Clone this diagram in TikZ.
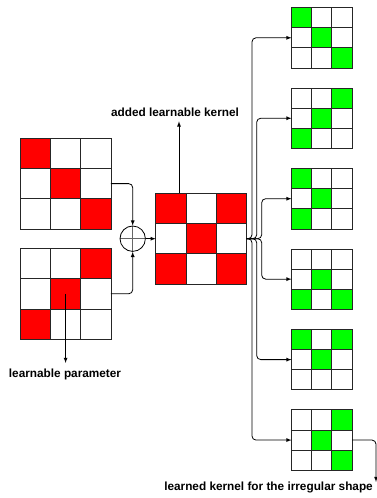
\documentclass[tikz,border=0pt]{standalone}
\usepackage{fontspec}
\setmainfont{Liberation Sans}
\usetikzlibrary{calc}

% cells of a 3x3 kernel: node, cell size, fill colour, filled row/col pairs
\newcommand{\kernelcells}[4]{%
	\foreach \kr/\kc in {#4}
		\fill[#3] ($(#1.north west)+(\kc*#2,\kr*#2)$) rectangle +(#2,#2);
	\foreach \kr in {0,1,2}
		\foreach \kc in {0,1,2}
			\draw[cellline] ($(#1.north west)+(\kc*#2,\kr*#2)$) rectangle +(#2,#2);
}

\begin{document}
\begin{tikzpicture}[x=1pt,y=-1pt,>=latex,
	cellline/.style={draw=black!85,line width=0.8pt},
	kernel/.style={inner sep=0,outer sep=0,minimum size=#1},
	link/.style={->,draw=black,line width=0.8pt,rounded corners=4pt},
	lbl/.style={font=\bfseries\fontsize{11.8}{14}\selectfont,inner sep=0}]

	\useasboundingbox (0,0) rectangle (377,498);

	% the two learnable kernels and their sum
	\node[kernel=90.6pt] (l1) at (65.6,183.6) {};
	\node[kernel=90.6pt] (l2) at (65.6,293.8) {};
	\node[kernel=91pt] (c) at (201.2,238.7) {};
	\kernelcells{l1}{30.2}{red}{0/0,1/1,2/2}
	\kernelcells{l2}{30.2}{red}{0/2,1/1,2/0}
	\kernelcells{c}{30.33}{red}{0/0,0/2,1/1,2/0,2/2}

	\node[draw=black,circle,minimum size=25.4pt,inner sep=0,line width=0.8pt,
		path picture={\draw[black!60,line width=0.6pt]
			(path picture bounding box.north) -- (path picture bounding box.south)
			(path picture bounding box.west) -- (path picture bounding box.east);}]
		(sum) at (132.7,238.7) {};

	% learned kernels
	\node[kernel=60.5pt] (g1) at (321.8,37.8) {};
	\node[kernel=60.5pt] (g2) at (321.8,118.25) {};
	\node[kernel=60.5pt] (g3) at (321.8,198.7) {};
	\node[kernel=60.5pt] (g4) at (321.8,279.15) {};
	\node[kernel=60.5pt] (g5) at (321.8,359.6) {};
	\node[kernel=60.5pt] (g6) at (321.8,440.05) {};
	\kernelcells{g1}{20.17}{green}{0/0,1/1,2/2}
	\kernelcells{g2}{20.17}{green}{0/2,1/1,2/0}
	\kernelcells{g3}{20.17}{green}{0/0,1/1,2/0}
	\kernelcells{g4}{20.17}{green}{1/1,2/0,2/2}
	\kernelcells{g5}{20.17}{green}{0/0,0/2,1/1}
	\kernelcells{g6}{20.17}{green}{0/2,1/1,2/2}

	% labels
	\node[lbl,anchor=base,inner ysep=4.3pt] (addlbl) at (175,116.7) {added learnable kernel};
	\node[lbl,anchor=base,inner ysep=6pt] (parlbl) at (65,377.7) {learnable parameter};
	\node[lbl,anchor=base east] (irrlbl) at (373,490.7) {learned kernel for the irregular shape};

	% connectors
	\path[link] (l1.east) -| (sum.north);
	\path[link] (l2.east) -| (sum.south);
	\path[link] (sum.east) -- (c.west);

	\coordinate (up) at ([xshift=23.3pt]c.north west);
	\path[link] (up) -- (up |- addlbl.south);
	\path[link] (l2.center) -- (l2.center |- parlbl.north);

	\path[link] (c.east) -- ++(5.3,0) |- (g1.west);
	\path[link] (c.east) -- ++(10,0) |- (g2.west);
	\path[link] (c.east) -- ++(15,0) |- (g3.west);
	\path[link] (c.east) -- ++(15,0) |- (g4.west);
	\path[link] (c.east) -- ++(10,0) |- (g5.west);
	\path[link] (c.east) -- ++(5.3,0) |- (g6.west);

	\path[link] (g6.east) -| ([xshift=3pt]irrlbl.north east);

\end{tikzpicture}
\end{document}
